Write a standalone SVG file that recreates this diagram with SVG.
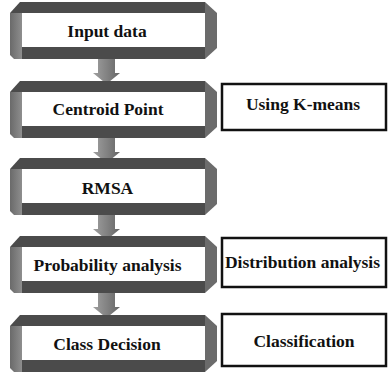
<svg xmlns="http://www.w3.org/2000/svg" xmlns:xlink="http://www.w3.org/1999/xlink" width="388" height="372" viewBox="0 0 388 372">
<style>
  text { font-family: 'Liberation Serif', 'Times New Roman', serif; font-weight: bold; font-size: 17.5px; fill: #111111; text-anchor: middle; }
  .side { fill: #ffffff; stroke: #111111; stroke-width: 2.5; }
  .dark { fill: #4b4b4b; }
  .mid { fill: #6b6b6b; }
</style>
<defs>
  <linearGradient id="leftg" x1="0" y1="0" x2="1" y2="0">
    <stop offset="0" stop-color="#6a6a6a"/>
    <stop offset="1" stop-color="#8e8e8e"/>
  </linearGradient>
  <linearGradient id="arrg" x1="0" y1="0" x2="1" y2="0">
    <stop offset="0" stop-color="#a0a0a0"/>
    <stop offset="1" stop-color="#666666"/>
  </linearGradient>
  <g id="frame">
    <rect x="12" y="11" width="183" height="34" fill="#ffffff"/>
    <polygon class="dark" points="10,0 195,0 195,11 0,11"/>
    <polygon class="mid" points="195,0 207,11 207,46 195,57"/>
    <polygon fill="url(#leftg)" points="0,11 12,11 12,57 4,57 0,53"/>
    <polygon class="dark" points="12,45 195,45 195,57 12,57"/>
  </g>
  <polygon id="arrow" fill="url(#arrg)" points="98,0 115,0 115,14 120,14 106.5,25 93,14 98,14"/>
</defs>
<g id="connectors">
  <use xlink:href="#arrow" transform="translate(0,59)"/>
  <use xlink:href="#arrow" transform="translate(0,138)"/>
  <use xlink:href="#arrow" transform="translate(0,215)"/>
  <use xlink:href="#arrow" transform="translate(0,293)"/>
</g>
<g id="input-data">
  <use xlink:href="#frame" transform="translate(10,2)"/>
  <text x="107" y="37">Input data</text>
</g>
<g id="centroid-point">
  <use xlink:href="#frame" transform="translate(10,81)"/>
  <text x="108" y="115">Centroid Point</text>
</g>
<g id="rmsa">
  <use xlink:href="#frame" transform="translate(10,158)"/>
  <text x="107.5" y="194">RMSA</text>
</g>
<g id="probability-analysis">
  <use xlink:href="#frame" transform="translate(10,236)"/>
  <text x="107.5" y="271">Probability analysis</text>
</g>
<g id="class-decision">
  <use xlink:href="#frame" transform="translate(10,315)"/>
  <text x="107" y="350">Class Decision</text>
</g>
<g id="using-kmeans">
  <rect class="side" x="222" y="84" width="164" height="46"/>
  <text x="303" y="110">Using K-means</text>
</g>
<g id="distribution-analysis">
  <rect class="side" x="222" y="238" width="164" height="49"/>
  <text x="302.5" y="268">Distribution analysis</text>
</g>
<g id="classification">
  <rect class="side" x="222" y="314" width="164" height="52"/>
  <text x="304" y="347">Classification</text>
</g>
</svg>
